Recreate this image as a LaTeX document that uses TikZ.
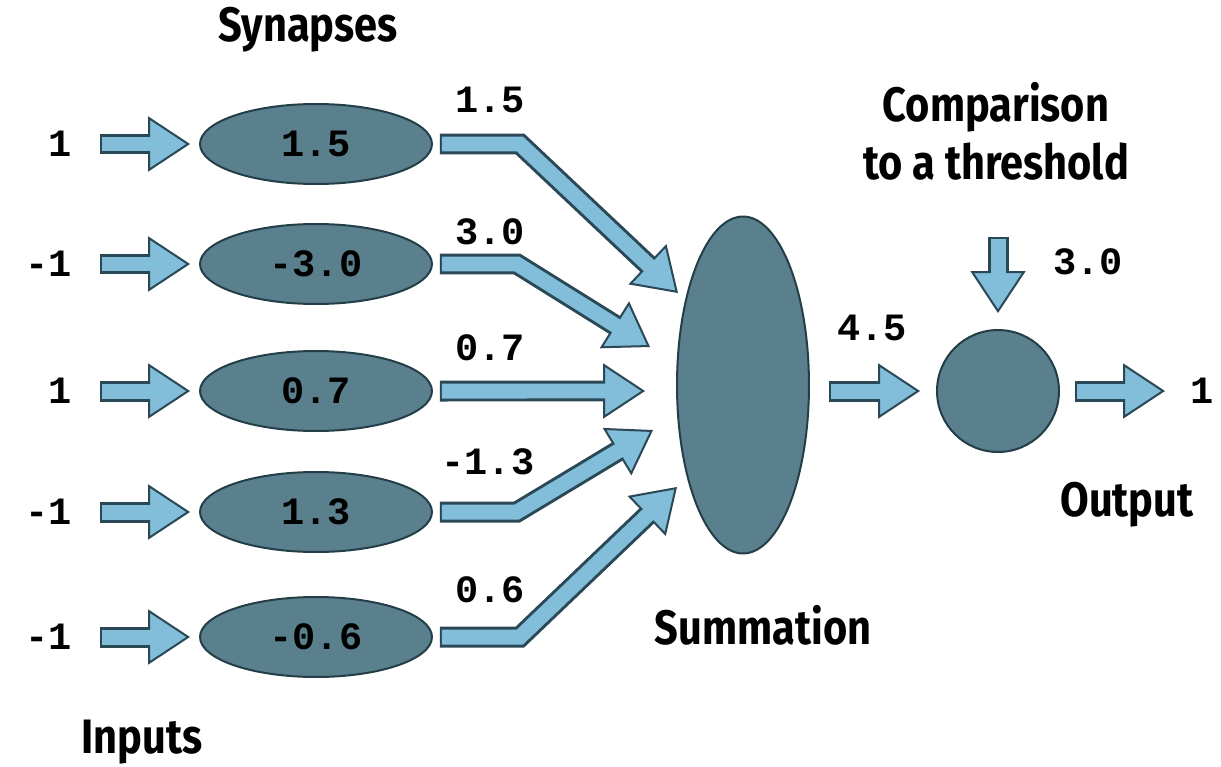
\documentclass[tikz,border=0pt]{standalone}
\usepackage{xcolor}
\usepackage{fontspec}
\usetikzlibrary{shapes.geometric,arrows.meta}
\newfontfamily\numfont{Liberation Mono}
\newfontfamily\headfont{Fira Sans}[FakeStretch=0.86]
\definecolor{cellfill}{RGB}{89,128,140}
\definecolor{celledge}{RGB}{36,62,72}
\definecolor{flowfill}{RGB}{130,189,217}
\definecolor{flowedge}{RGB}{42,72,86}
\tikzstyle{num}=[font=\numfont\bfseries\fontsize{22}{24}\selectfont, inner sep=0pt, outer sep=0pt]
\tikzstyle{head}=[font=\headfont\bfseries\fontsize{27.5}{33}\selectfont, align=center]
\tikzstyle{cell}=[ellipse, draw=celledge, fill=cellfill, line width=0.04cm, outer sep=0pt,
  font=\numfont\bfseries\fontsize{22}{24}\selectfont]
% thick light arrow with a dark rim: #1 = gap at start, #2 = gap at end
\tikzset{flow/.style 2 args={draw=flowedge, line width=0.42cm, shorten <=#1, shorten >=#2,
  -{Triangle[length=0.84cm,width=1.1cm,line width=0.04cm,fill=flowfill]},
  postaction={draw=flowfill, line width=0.3cm, arrows=-,
    shorten <=#1+0.04cm, shorten >=#2+0.72cm}}}

\begin{document}
\begin{tikzpicture}[x=0.02cm,y=-0.02cm]
  \useasboundingbox (0,0) rectangle (1221,767);

  %% inputs
  \node[num,anchor=east] (in1) at (72,144) {1};
  \node[num,anchor=east] (in2) at (72,264) {-1};
  \node[num,anchor=east] (in3) at (72,391) {1};
  \node[num,anchor=east] (in4) at (72,512) {-1};
  \node[num,anchor=east] (in5) at (72,637) {-1};

  %% synapses
  \node[cell,minimum width=4.64cm,minimum height=1.6cm] (syn1) at (316,144) {1.5};
  \node[cell,minimum width=4.64cm,minimum height=1.6cm] (syn2) at (316,264) {-3.0};
  \node[cell,minimum width=4.64cm,minimum height=1.6cm] (syn3) at (316,391) {0.7};
  \node[cell,minimum width=4.64cm,minimum height=1.6cm] (syn4) at (316,512) {1.3};
  \node[cell,minimum width=4.64cm,minimum height=1.6cm] (syn5) at (316,637) {-0.6};

  \draw[flow={0.56cm}{0.2cm}] (in1) -- (syn1);
  \draw[flow={0.56cm}{0.2cm}] (in2) -- (syn2);
  \draw[flow={0.56cm}{0.2cm}] (in3) -- (syn3);
  \draw[flow={0.56cm}{0.2cm}] (in4) -- (syn4);
  \draw[flow={0.56cm}{0.2cm}] (in5) -- (syn5);

  %% summation and threshold
  \node[cell,minimum width=2.64cm,minimum height=6.74cm] (sum) at (743,385) {};
  \node[cell,circle,minimum size=2.44cm] (thr) at (998,391) {};
  \coordinate (bias) at (998,237);
  \node[num,anchor=west] (out) at (1190,391) {1};

  %% weighted signals
  \draw[flow={0.16cm}{0cm}] (syn1) -- ([xshift=1.76cm]syn1.east) -- ([xshift=0.02cm,yshift=1.84cm]sum.west);
  \draw[flow={0.16cm}{0cm}] (syn2) -- ([xshift=1.7cm]syn2.east) -- ([xshift=-0.54cm,yshift=0.76cm]sum.west);
  \draw[flow={0.16cm}{0cm}] (syn3) -- ([xshift=-0.64cm,yshift=-0.12cm]sum.west);
  \draw[flow={0.16cm}{0cm}] (syn4) -- ([xshift=1.7cm]syn4.east) -- ([xshift=-0.48cm,yshift=-0.9cm]sum.west);
  \draw[flow={0.16cm}{0cm}] (syn5) -- ([xshift=1.76cm]syn5.east) -- ([yshift=-2.04cm]sum.west);

  \node[num] (w1) at (490,100) {1.5};
  \node[num] (w2) at (490,232) {3.0};
  \node[num] (w3) at (490,348) {0.7};
  \node[num] (w4) at (488,462) {-1.3};
  \node[num] (w5) at (490,590) {0.6};

  \draw[flow={0.4cm}{0.34cm}] (sum.east |- thr) -- (thr);
  \draw[flow={0cm}{0.34cm}] (bias) -- (thr);
  \draw[flow={0.32cm}{0.5cm}] (thr) -- (out);
  \node[num] (total) at (872,328) {4.5};
  \node[num] (level) at (1088,262) {3.0};

  %% captions
  \node[head] (lsyn) at (308,30) {Synapses};
  \node[head] (lcmp) at (996,131) {Comparison\\to a threshold};
  \node[head] (lsum) at (763,625) {Summation};
  \node[head] (lout) at (1127,505) {Output};
  \node[head] (lin) at (142,742) {Inputs};
\end{tikzpicture}
\end{document}
